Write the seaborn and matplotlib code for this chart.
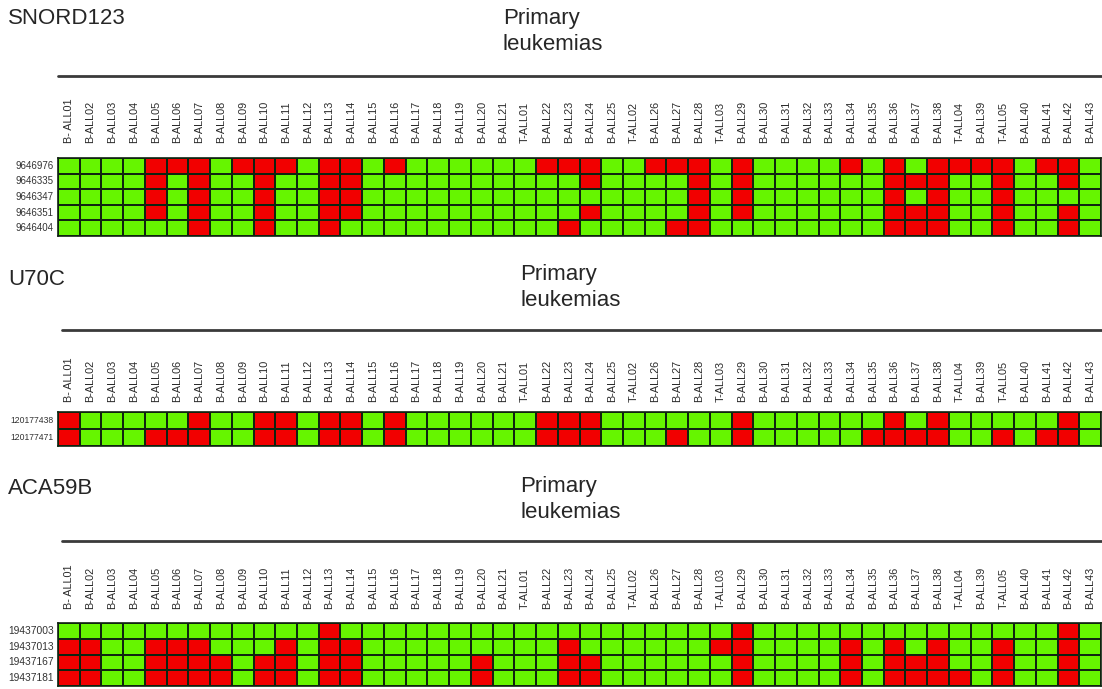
import numpy as np
import pandas as pd
import matplotlib
matplotlib.use("Agg")
import matplotlib.pyplot as plt
import seaborn as sns
from matplotlib.colors import ListedColormap
from matplotlib.lines import Line2D

# figure size in pixels
W, H = 1102, 689

# sample (column) labels, same for all three panels
samples = ['B-ALL%02d' % i for i in range(1, 22)] + [
    'T-ALL01', 'B-ALL22', 'B-ALL23', 'B-ALL24', 'B-ALL25', 'T-ALL02',
    'B-ALL26', 'B-ALL27', 'B-ALL28', 'T-ALL03', 'B-ALL29', 'B-ALL30',
    'B-ALL31', 'B-ALL32', 'B-ALL33', 'B-ALL34', 'B-ALL35', 'B-ALL36',
    'B-ALL37', 'B-ALL38', 'T-ALL04', 'B-ALL39', 'T-ALL05', 'B-ALL40',
    'B-ALL41', 'B-ALL42', 'B-ALL43']
samples[0] = 'B- ALL01'

# 1 = red (altered), 0 = green; groups of 8 samples
snord_probes = ['9646976', '9646335', '9646347', '9646351', '9646404']
snord_calls = [
    "00001110 11101101 00000011 10011101 00001010 11110110",
    "00001010 01001100 00000000 10000101 00000011 10010010",
    "00001010 01001100 00000000 00000101 00000010 10010000",
    "00001010 01001100 00000000 10000101 00000011 10010010",
    "00000010 01001000 00000001 00001100 00000011 10010010",
]

u70c_probes = ['120177438', '120177471']
u70c_calls = [
    "10000010 01101101 00000011 10000001 00000010 10000010",
    "10001110 01101101 00000011 10001001 00000111 10010110",
]

aca_probes = ['19437003', '19437013', '19437167', '19437181']
aca_calls = [
    "00000000 00001000 00000000 00000001 00000000 00000010",
    "11001110 00101100 00000001 00000011 00001010 10010010",
    "11001111 01101100 00010001 10000001 00001011 10010010",
    "11001111 01101100 00010001 10000001 00001011 11010010",
]


def to_frame(calls, probes):
    vals = [[int(c) for c in r.replace(' ', '')] for r in calls]
    return pd.DataFrame(vals, index=probes, columns=samples)


sns.set_style("white")
plt.rcParams['font.family'] = ['Liberation Sans', 'DejaVu Sans']
narrow = ['Liberation Sans Narrow', 'Liberation Sans', 'DejaVu Sans']

fig = plt.figure(figsize=(W / 100, H / 100), dpi=100)
cmap = ListedColormap(['#66f500', '#f20000'])

panels = [
    # gene, frame, heatmap top/bottom px, gene label y, header x/y, line y, line x0, label pad, row font
    ('SNORD123', to_frame(snord_calls, snord_probes), 158, 236, 8, 503, 8, 76, 58, 11, 7.0),
    ('U70C', to_frame(u70c_calls, u70c_probes), 412, 446, 269, 520, 264, 330, 62, 7, 6.2),
    ('ACA59B', to_frame(aca_calls, aca_probes), 623, 686, 478, 520, 476, 541, 62, 10, 7.4),
]

for gene, df, top, bot, gy, hx, hy, ly, lx0, pad, rfs in panels:
    fig.text(8 / W, 1 - gy / H, gene, fontsize=16, va='top', ha='left')
    fig.text(hx / W, 1 - hy / H, 'Primary\nleukemias', fontsize=16,
             va='top', ha='left', linespacing=1.3)
    fig.add_artist(Line2D([lx0 / W, 1.0], [1 - ly / H, 1 - ly / H],
                          transform=fig.transFigure, color='#3a3a3a', lw=2))

    ax = fig.add_axes([58 / W, 1 - bot / H, (1101 - 58) / W, (bot - top) / H])
    sns.heatmap(df, ax=ax, cmap=cmap, vmin=0, vmax=1, cbar=False,
                linewidths=1.1, linecolor='#102410',
                xticklabels=True, yticklabels=True)
    ax.xaxis.tick_top()
    ax.set_xlabel('')
    ax.set_ylabel('')
    ax.tick_params(axis='x', length=0, pad=pad)
    ax.tick_params(axis='y', length=0, pad=3)
    for t in ax.get_xticklabels():
        t.set_rotation(90)
        t.set_fontsize(7.8)
        t.set_family(narrow)
        t.set_color('#2a2a2a')
    for t in ax.get_yticklabels():
        t.set_rotation(0)
        t.set_fontsize(rfs)
        t.set_family(narrow)
        t.set_color('#333333')
    for s in ax.spines.values():
        s.set_visible(True)
        s.set_color('#102410')
        s.set_linewidth(1.2)

fig.savefig('out.png', dpi=100)
